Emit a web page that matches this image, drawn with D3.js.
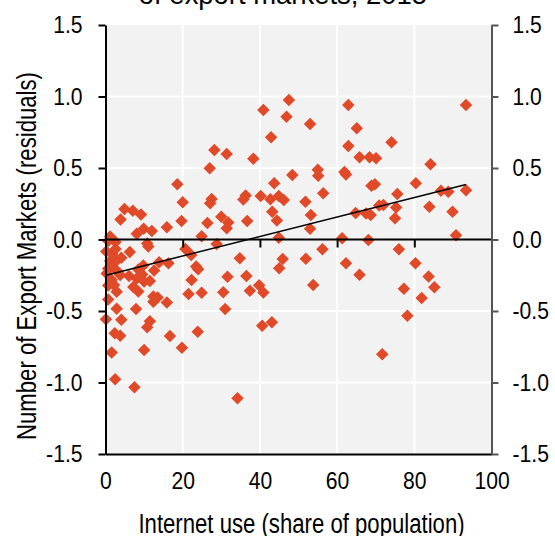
<!DOCTYPE html>
<html>
<head>
<meta charset="utf-8">
<script src="https://cdn.jsdelivr.net/npm/d3@7"></script>
<style>
  body { margin: 0; background: #ffffff; }
  svg { display: block; font-family: "Liberation Sans", Arial, sans-serif; }
</style>
</head>
<body>
<svg id="chart" width="555" height="536"></svg>
<script>
// Internet use (share of population) per country
const internetUse = [
  47.5, 40.9, 46.9, 42.9, 28.2, 31.4, 38.3, 27.0, 48.4, 18.6, 43.7, 20.0, 4.9, 7.1, 9.2, 3.9, 19.7,
  27.5, 27.1, 36.3, 35.7, 40.2, 42.7, 44.9, 46.2, 43.2, 44.4, 30.0, 31.8, 31.4, 26.4, 36.7, 15.9,
  9.9, 8.1, 12.0, 24.9, 44.9, 62.9, 93.4, 53.0, 65.1, 62.9, 74.1, 65.8, 68.4, 70.1, 84.2, 55.0,
  55.1, 61.9, 62.3, 68.9, 69.8, 80.4, 56.4, 51.8, 75.6, 86.9, 88.8, 93.4, 53.2, 70.9, 72.0, 64.8,
  67.5, 68.7, 75.3, 75.0, 83.9, 89.9, 53.0, 61.3, 68.1, 90.8,
  56.2, 51.9, 76.0, 62.3, 80.3, 65.8, 83.7, 53.8, 77.3, 85.2, 81.9, 78.2, 71.7, 28.8, 20.7, 22.2,
  34.8, 45.9, 45.0, 23.5, 24.0, 16.3, 13.9, 6.3, 10.8, 11.1, 12.6, 22.3, 31.6, 36.5, 39.8, 40.9,
  37.4, 30.5, 24.9, 21.5, 12.4, 13.5, 12.4, 15.9, 2.9, 7.9, 31.0, 0.1, 4.1, 11.5, 10.8, 40.6, 43.1,
  2.4, 3.8, 16.7, 23.9, 1.6, 10.0, 19.8, 2.5, 7.5, 34.2,
  9.8, 8.5, 6.1, 9.5, 8.1, 10.0, 11.5, 7.2, 8.5,
  1.2, 0.7, 2.6, 0.2, 1.7, 2.6, 1.2, 3.0, 4.1, 1.7, 0.7, 0.3, 3.0, 3.8, 1.6, 0.7, 2.2, 2.9, 0.7
];

// Number of export markets, residuals after controls
const exportResiduals = [
  0.976, 0.906, 0.859, 0.715, 0.626, 0.598, 0.565, 0.498, 0.451, 0.386, 0.393, 0.260, 0.213, 0.201, 0.175, 0.140, 0.129,
  0.283, 0.253, 0.308, 0.280, 0.304, 0.282, 0.304, 0.276, 0.194, 0.133, 0.159, 0.119, 0.078, 0.115, 0.129, 0.085,
  0.075, 0.041, 0.059, 0.022, 0.012, 0.941, 0.941, 0.808, 0.778, 0.654, 0.680, 0.575, 0.575, 0.568, 0.526, 0.488,
  0.445, 0.472, 0.454, 0.376, 0.386, 0.393, 0.323, 0.264, 0.318, 0.341, 0.334, 0.345, 0.171, 0.238, 0.241, 0.185,
  0.181, 0.171, 0.224, 0.148, 0.229, 0.194, 0.075, 0.008, -0.003, 0.029,
  -0.069, -0.135, -0.069, -0.166, -0.166, -0.246, -0.259, -0.318, -0.344, -0.334, -0.409, -0.533, -0.803, -0.031, -0.066, -0.108,
  -0.131, -0.136, -0.201, -0.189, -0.208, -0.166, -0.159, -0.087, -0.028, -0.049, -0.217, -0.283, -0.260, -0.255, -0.320, -0.371,
  -0.358, -0.369, -0.372, -0.381, -0.399, -0.406, -0.435, -0.441, -0.484, -0.486, -0.486, -0.558, -0.561, -0.572, -0.613, -0.603, -0.579,
  -0.656, -0.673, -0.675, -0.645, -0.790, -0.773, -0.757, -0.977, -1.034, -1.110,
  -0.182, -0.210, -0.255, -0.245, -0.273, -0.294, -0.290, -0.332, -0.364,
  0.021, -0.010, -0.017, -0.084, -0.097, -0.066, -0.150, -0.143, -0.128, -0.185, -0.203, -0.238, -0.220, -0.248, -0.283, -0.322, -0.318, -0.365, -0.420
];

// Linear fit endpoints
const fitX = [0.2, 93.4];
const fitY = [-0.25, 0.385];

// Axis ticks
const xTicks = [0, 20, 40, 60, 80, 100];
const yTicks = [-1.5, -1.0, -0.5, 0, 0.5, 1.0, 1.5];

const titleText = "of export markets, 2015";
const xTitle = "Internet use (share of population)";
const yTitle = "Number of Export Markets (residuals)";

const pointColor = "#E04A28";

const svg = d3.select("#chart");
const plot = { left: 105.5, right: 491.5, top: 25, bottom: 454 };

const x = d3.scaleLinear().domain([0, 100]).range([plot.left, plot.right]);
const y = d3.scaleLinear().domain([-1.5, 1.5]).range([plot.bottom, plot.top]);

// Condense a text node horizontally (narrow face look)
function condense(sel, factor) {
  sel.each(function () {
    const w = this.getComputedTextLength();
    d3.select(this).attr("textLength", w * factor).attr("lengthAdjust", "spacingAndGlyphs");
  });
}

// Title (second line of a two-line heading)
svg.append("text")
  .attr("x", 283).attr("y", 4)
  .attr("text-anchor", "middle")
  .attr("font-size", 28)
  .attr("fill", "#000")
  .text(titleText)
  .call(condense, 0.98);

// Plot background
svg.append("rect")
  .attr("x", plot.left).attr("y", plot.top)
  .attr("width", plot.right - plot.left).attr("height", plot.bottom - plot.top)
  .attr("fill", "#F2F2F2");

// White gridlines
const grid = svg.append("g");
grid.selectAll("line.h").data(yTicks.filter(d => d !== 0 && d !== -1.5 && d !== 1.5)).join("line")
  .attr("x1", plot.left).attr("x2", plot.right)
  .attr("y1", d => y(d)).attr("y2", d => y(d))
  .attr("stroke", "#fff").attr("stroke-width", 2);
grid.selectAll("line.v").data(xTicks.filter(d => d !== 0 && d !== 100)).join("line")
  .attr("x1", d => x(d)).attr("x2", d => x(d))
  .attr("y1", plot.top).attr("y2", plot.bottom)
  .attr("stroke", "#fff").attr("stroke-width", 2);

// Scatter points as diamonds
const pts = internetUse.map((v, i) => ({ x: v, y: exportResiduals[i] }));
const diamond = d3.symbol().type(d3.symbolSquare).size(78);
svg.append("g").selectAll("path").data(pts).join("path")
  .attr("d", diamond)
  .attr("transform", d => `translate(${x(d.x)},${y(d.y)}) rotate(45)`)
  .attr("fill", pointColor);

// Zero line with downward ticks
const zeroAxis = d3.axisBottom(x).tickValues(xTicks).tickSize(8).tickFormat("");
svg.append("g")
  .attr("transform", `translate(0,${y(0)})`)
  .call(zeroAxis)
  .call(g => g.select(".domain").attr("stroke", "#000").attr("stroke-width", 2).attr("d", `M${plot.left},0H${plot.right}`))
  .call(g => g.selectAll(".tick line").attr("stroke", "#000").attr("stroke-width", 2))
  .call(g => g.selectAll(".tick").filter(d => d === 0).remove());

// Fitted line
svg.append("path")
  .datum(fitX.map((v, i) => [v, fitY[i]]))
  .attr("d", d3.line().x(d => x(d[0])).y(d => y(d[1])))
  .attr("fill", "none").attr("stroke", "#000").attr("stroke-width", 1.5);

const tickFont = 24;
const tickCondense = 0.88;

// Bottom axis
const bottomAxis = d3.axisBottom(x).tickValues(xTicks).tickSize(0).tickPadding(0).tickFormat(d3.format("d"));
svg.append("g")
  .attr("transform", `translate(0,${plot.bottom})`)
  .call(bottomAxis)
  .attr("font-family", null).attr("font-size", null)
  .call(g => g.select(".domain").attr("stroke", "#000").attr("stroke-width", 2))
  .call(g => g.selectAll(".tick text").attr("font-size", tickFont).attr("fill", "#000")
    .attr("y", 35).attr("dy", null).call(condense, tickCondense));

// Y tick label format with a plain hyphen for negatives
const fmtY = d => (d < 0 ? "-" : "") + d3.format(".1f")(Math.abs(d));

// Left axis
const leftAxis = d3.axisLeft(y).tickValues(yTicks).tickSize(7).tickPadding(16).tickFormat(fmtY).tickSizeOuter(0);
svg.append("g")
  .attr("transform", `translate(${plot.left},0)`)
  .call(leftAxis)
  .attr("font-family", null).attr("font-size", null)
  .call(g => g.select(".domain").attr("stroke", "#000").attr("stroke-width", 2))
  .call(g => g.selectAll(".tick line").attr("stroke", "#000").attr("stroke-width", 2))
  .call(g => g.selectAll(".tick text").attr("font-size", tickFont).attr("fill", "#000").call(condense, tickCondense));

// Right axis
const rightAxis = d3.axisRight(y).tickValues(yTicks).tickSize(7).tickPadding(14).tickFormat(fmtY).tickSizeOuter(0);
svg.append("g")
  .attr("transform", `translate(${plot.right},0)`)
  .call(rightAxis)
  .attr("font-family", null).attr("font-size", null)
  .call(g => g.select(".domain").attr("stroke", "#555").attr("stroke-width", 2))
  .call(g => g.selectAll(".tick line").attr("stroke", "#555").attr("stroke-width", 2))
  .call(g => g.selectAll(".tick text").attr("font-size", tickFont).attr("fill", "#000").call(condense, tickCondense));

// Axis titles
svg.append("text")
  .attr("x", (plot.left + plot.right) / 2 + 3).attr("y", 533)
  .attr("text-anchor", "middle").attr("font-size", 27).attr("fill", "#000")
  .text(xTitle)
  .call(condense, 0.82);

svg.append("text")
  .attr("transform", `translate(36,256) rotate(-90)`)
  .attr("text-anchor", "middle").attr("font-size", 27).attr("fill", "#000")
  .text(yTitle)
  .call(condense, 0.82);
</script>
</body>
</html>
